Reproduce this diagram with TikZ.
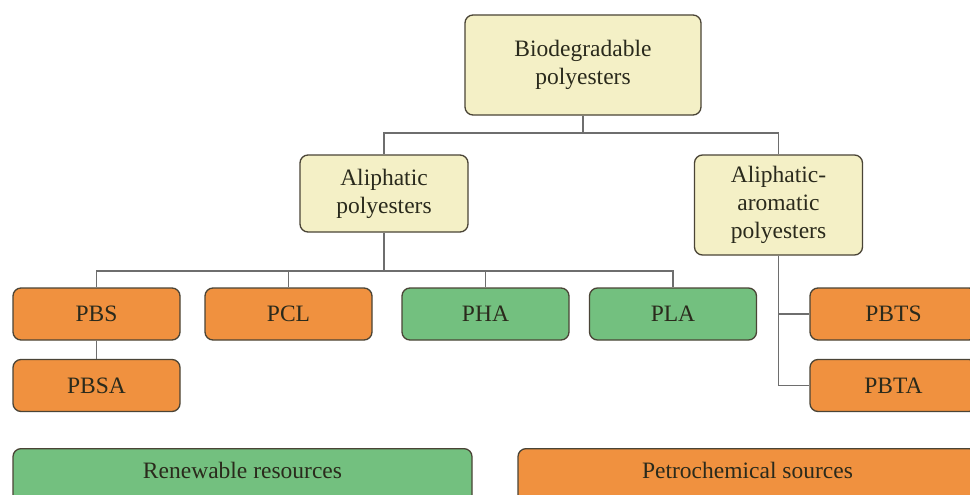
\documentclass[tikz,border=0pt]{standalone}
\usepackage{fontspec}
\setmainfont{Liberation Serif}
\definecolor{beige}{HTML}{F4F0C6}
\definecolor{orng}{HTML}{F0913F}
\definecolor{grn}{HTML}{73C07F}
\definecolor{edgec}{HTML}{4A4436}
\definecolor{linec}{HTML}{6E6E6E}
\definecolor{txt}{HTML}{2A2A1C}
\tikzset{
  box/.style={draw=edgec,line width=1.3pt,rounded corners=8pt,align=center,
    text=txt,font=\fontsize{23.5}{28}\selectfont,inner sep=0pt},
  link/.style={draw=linec,line width=1.3pt}
}
\begin{document}
\begin{tikzpicture}[x=1pt,y=-1pt]

      \clip (0,0) rectangle (970,495);
      \fill[white] (0,0) rectangle (970,495);

      \begin{scope}[every node/.style={box,fill=beige,minimum width=168pt}]
        \node (bio) at (583,65)    [minimum width=236pt,minimum height=100pt] {Biodegradable\\polyesters};
        \node (ali) at (384,193.5) [minimum height=77pt] {Aliphatic\\polyesters};
        \node (aro) at (778.5,205) [minimum height=100pt] {Aliphatic-\\aromatic\\polyesters};
      \end{scope}

      \begin{scope}[every node/.style={box,minimum width=167pt,minimum height=52pt}]
        \node (pbs)  at (96.5,314)  [fill=orng] {PBS};
        \node (pcl)  at (288.5,314) [fill=orng] {PCL};
        \node (pha)  at (485.5,314) [fill=grn]  {PHA};
        \node (pla)  at (673,314)   [fill=grn]  {PLA};
        \node (pbsa) at (96.5,385.5)  [fill=orng] {PBSA};
        \node (pbts) at (893.5,314)   [fill=orng] {PBTS};
        \node (pbta) at (893.5,385.5) [fill=orng] {PBTA};
      \end{scope}

      % legend boxes run past the lower edge
      \begin{scope}[every node/.style={box,minimum width=459pt,anchor=north,
          text height=22pt,text depth=40pt,inner ysep=8pt}]
        \node (ren) at (242.5,448) [fill=grn]  {Renewable resources};
        \node (pet) at (747.5,448) [fill=orng] {Petrochemical sources};
      \end{scope}

      \coordinate (b1) at (583,133);
      \coordinate (b2) at (0,271);

      \begin{scope}[every path/.style={link}]
        \path (bio.south) edge (b1);
        \draw (ali.north) |- (b1) -| (aro.north);
        \draw (ali.south) -- (ali.south |- b2);
        \draw (pbs.north) |- (pla.north |- b2) -- (pla.north);
        \draw (pcl.north) -- (pcl.north |- b2);
        \draw (pha.north) -- (pha.north |- b2);
        \path (pbs) edge (pbsa);
        \draw (aro.south) |- (pbta.west);
        \draw (aro.south |- pbts.west) -- (pbts.west);
      \end{scope}

    \end{tikzpicture}
\end{document}
